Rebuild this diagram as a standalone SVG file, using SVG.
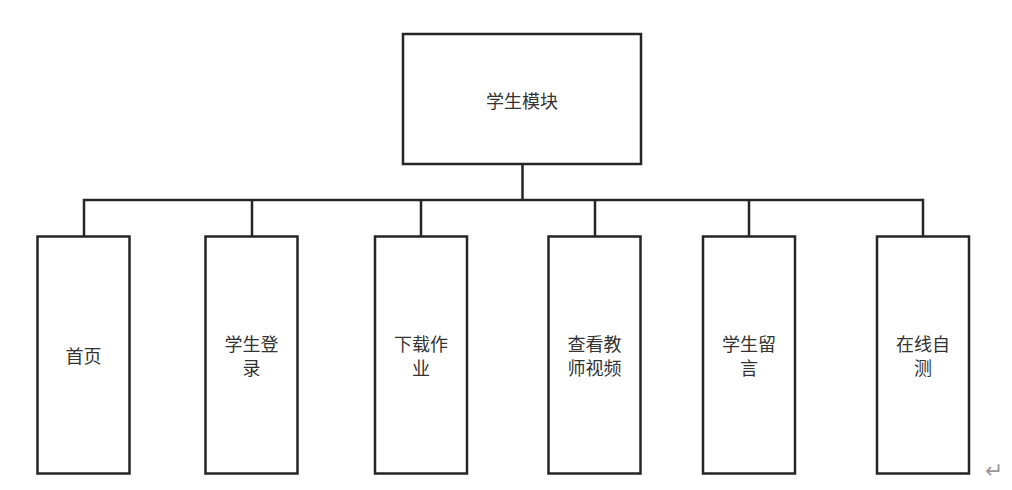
<svg xmlns="http://www.w3.org/2000/svg" width="1012" height="490" viewBox="0 0 1012 490">
<style>
.box{fill:#fff;stroke:#262626;stroke-width:2.5}
.ln{fill:none;stroke:#262626;stroke-width:2.5}
.t{font-family:"Noto Sans CJK SC","Microsoft YaHei",sans-serif;font-size:18px;fill:#333;text-anchor:middle;dominant-baseline:central}
</style>
<rect width="1012" height="490" fill="#fff"/>
<g id="connectors">
<path class="ln" d="M522.5 164V200M84 236.5V200H923V236.5M252 200V236.5M421 200V236.5M595 200V236.5M749 200V236.5"/>
</g>
<g id="root"><rect class="box" x="403" y="34" width="238" height="130"/><text class="t" x="522" y="100" font-size="19">学生模块</text></g>
<g id="n1"><rect class="box" x="37.5" y="236.5" width="92" height="237"/><text class="t" x="83.5" y="355">首页</text></g>
<g id="n2"><rect class="box" x="205.5" y="236.5" width="92" height="237"/><text class="t" x="251.5" y="343">学生登</text><text class="t" x="251.5" y="367">录</text></g>
<g id="n3"><rect class="box" x="375" y="236.5" width="92" height="237"/><text class="t" x="421" y="343">下载作</text><text class="t" x="421" y="367">业</text></g>
<g id="n4"><rect class="box" x="548.5" y="236.5" width="92" height="237"/><text class="t" x="594.5" y="343">查看教</text><text class="t" x="594.5" y="367">师视频</text></g>
<g id="n5"><rect class="box" x="703" y="236.5" width="92" height="237"/><text class="t" x="749" y="343">学生留</text><text class="t" x="749" y="367">言</text></g>
<g id="n6"><rect class="box" x="877" y="236.5" width="92" height="237"/><text class="t" x="923" y="343">在线自</text><text class="t" x="923" y="367">测</text></g>
<text x="994" y="470" font-family="DejaVu Sans,sans-serif" font-size="22" fill="#999" text-anchor="middle" dominant-baseline="central">↵</text>
</svg>
